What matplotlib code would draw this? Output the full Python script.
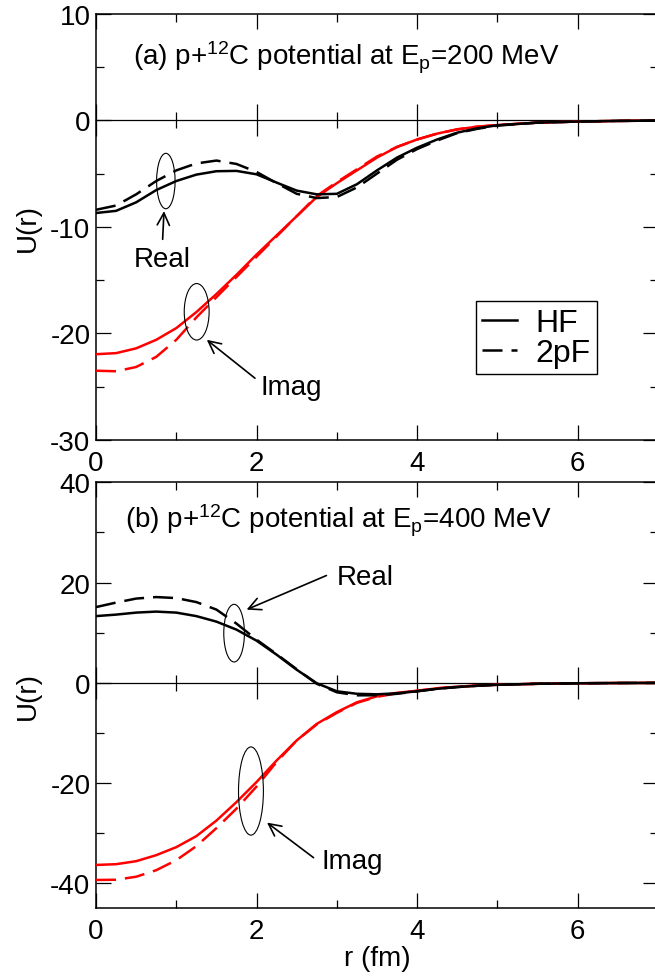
import numpy as np
import matplotlib
matplotlib.use("Agg")
import matplotlib.pyplot as plt
from matplotlib.patches import Ellipse
from matplotlib.ticker import MultipleLocator

plt.rcParams['font.family'] = ['Liberation Sans', 'DejaVu Sans']
plt.rcParams['mathtext.fontset'] = 'custom'
plt.rcParams['mathtext.rm'] = 'Liberation Sans'
plt.rcParams['mathtext.it'] = 'Liberation Sans:italic'
plt.rcParams['axes.unicode_minus'] = False

# radial grid (fm)
r = [0.0, 0.25, 0.5, 0.75, 1.0, 1.25, 1.5, 1.75, 2.0, 2.25, 2.5, 2.75, 3.0,
     3.25, 3.5, 3.75, 4.0, 4.25, 4.5, 4.75, 5.0, 5.5, 6.0, 6.5, 7.0]

# (a) E_p = 200 MeV
real_hf_200 = [-8.7, -8.5, -7.7, -6.55, -5.7, -5.1, -4.78, -4.75, -5.07, -5.85, -6.6, -6.95, -6.9,
               -6.0, -4.7, -3.5, -2.57, -1.8, -1.16, -0.75, -0.47, -0.22, -0.12, -0.06, -0.03]
real_2pf_200 = [-8.4, -8.0, -6.95, -5.7, -4.7, -4.05, -3.78, -4.1, -4.85, -5.9, -6.9, -7.3, -7.2,
                -6.3, -5.0, -3.7, -2.7, -1.9, -1.2, -0.8, -0.5, -0.22, -0.12, -0.06, -0.03]
imag_hf_200 = [-21.95, -21.85, -21.4, -20.6, -19.5, -18.0, -16.3, -14.5, -12.6, -10.8, -9.0, -7.2, -5.9,
               -4.7, -3.5, -2.5, -1.8, -1.25, -0.85, -0.6, -0.45, -0.22, -0.12, -0.06, -0.03]
imag_2pf_200 = [-23.5, -23.55, -23.15, -22.2, -20.6, -18.5, -16.6, -14.7, -12.8, -10.9, -9.0, -7.1, -5.8,
                -4.6, -3.4, -2.5, -1.8, -1.25, -0.85, -0.6, -0.45, -0.22, -0.12, -0.06, -0.03]

# (b) E_p = 400 MeV
real_hf_400 = [13.3, 13.6, 14.0, 14.2, 14.0, 13.3, 12.2, 10.6, 8.4, 5.6, 2.6, -0.1, -1.7,
               -2.2, -2.3, -2.1, -1.7, -1.2, -0.85, -0.6, -0.4, -0.2, -0.1, -0.05, -0.02]
real_2pf_400 = [15.1, 16.0, 16.8, 17.1, 16.9, 16.1, 14.6, 11.8, 8.6, 5.7, 2.7, -0.2, -1.9,
                -2.5, -2.5, -2.2, -1.7, -1.2, -0.85, -0.6, -0.4, -0.2, -0.1, -0.05, -0.02]
imag_hf_400 = [-36.35, -36.2, -35.6, -34.4, -32.8, -30.6, -27.5, -23.8, -19.8, -15.5, -11.5, -8.2, -5.85,
               -3.9, -2.7, -2.0, -1.6, -1.1, -0.8, -0.55, -0.4, -0.2, -0.1, -0.05, -0.02]
imag_2pf_400 = [-39.35, -39.3, -38.7, -37.4, -35.4, -32.6, -29.0, -25.1, -20.7, -15.8, -11.5, -8.3, -6.0,
                -4.0, -2.8, -2.1, -1.6, -1.1, -0.8, -0.55, -0.4, -0.2, -0.1, -0.05, -0.02]

W, H = 655, 978
fig = plt.figure(figsize=(W / 100, H / 100), dpi=100)
ax1 = fig.add_axes([96 / W, (H - 441) / H, 562 / W, 426.3 / H])
ax2 = fig.add_axes([96 / W, (H - 909.3) / H, 562 / W, 426.0 / H])

LW = 1.8
DASH = (8, 3.6)


def style_axes(ax, ylim, ymaj, ymin, tick_fs):
    ax.set_xlim(0, 7)
    ax.set_ylim(*ylim)
    ax.xaxis.set_major_locator(MultipleLocator(2))
    ax.xaxis.set_minor_locator(MultipleLocator(1))
    ax.yaxis.set_major_locator(MultipleLocator(ymaj))
    ax.yaxis.set_minor_locator(MultipleLocator(ymin))
    ax.tick_params(which='both', direction='in', top=True, right=True, width=0.9)
    ax.tick_params(which='major', length=11, labelsize=tick_fs)
    ax.tick_params(which='minor', length=6)
    ax.tick_params(axis='x', pad=7)
    ax.tick_params(axis='y', pad=4)
    for s in ax.spines.values():
        s.set_linewidth(1.1)
    # zero axis with ticks in both directions
    sec = ax.secondary_xaxis(0, transform=ax.transData)
    sec.xaxis.set_major_locator(MultipleLocator(2))
    sec.xaxis.set_minor_locator(MultipleLocator(1))
    sec.tick_params(which='both', direction='inout', labelbottom=False, width=0.9)
    sec.tick_params(which='major', length=23)
    sec.tick_params(which='minor', length=12)
    sec.spines['bottom'].set_linewidth(0.9)
    sec.set_zorder(0.5)


def curves(ax, rh, rp, ih, ip):
    ax.plot(r, ih, color='red', lw=LW, zorder=3)
    ax.plot(r, ip, color='red', lw=LW, dashes=DASH, zorder=3)
    ax.plot(r, rh, color='black', lw=LW, zorder=4, label='HF')
    ax.plot(r, rp, color='black', lw=LW, dashes=DASH, zorder=4, label='2pF')


def mark(ax, center, w, h, tail, tip):
    ax.add_patch(Ellipse(center, w, h, fill=False, lw=0.8, color='black', zorder=5))
    ax.annotate('', xy=tip, xytext=tail,
                arrowprops=dict(arrowstyle='->', lw=1.2, color='black',
                                mutation_scale=22, shrinkA=0, shrinkB=0))


# panel (a)
curves(ax1, real_hf_200, real_2pf_200, imag_hf_200, imag_2pf_200)
style_axes(ax1, (-30, 10), 10, 5, 20)
ax1.set_ylabel('U(r)', fontsize=20, labelpad=7)
ax1.text(0.46, 5.26, r'(a) p+$^{12}$C potential at E$_{\mathrm{p}}$=200 MeV',
         fontsize=20, va='baseline', ha='left')
mark(ax1, (0.87, -5.7), 0.23, 5.2, (0.83, -11.17), (0.847, -8.52))
ax1.text(0.82, -13.7, 'Real', fontsize=20, ha='center', va='baseline')
mark(ax1, (1.254, -17.97), 0.31, 5.3, (1.98, -24.2), (1.38, -20.6))
ax1.text(2.05, -25.7, 'Imag', fontsize=20, ha='left', va='baseline')
leg = ax1.legend(loc='upper left', bbox_to_anchor=(0.676, 0.325), fontsize=23,
                 frameon=True, fancybox=False, framealpha=1, edgecolor='black',
                 handlelength=1.1, handletextpad=0.55, labelspacing=0.0,
                 borderpad=0.2, borderaxespad=0)
leg.get_frame().set_linewidth(1.0)

# panel (b)
curves(ax2, real_hf_400, real_2pf_400, imag_hf_400, imag_2pf_400)
style_axes(ax2, (-45, 40), 20, 10, 20)
ax2.set_ylabel('U(r)', fontsize=20, labelpad=7)
ax2.set_xlabel('r (fm)', fontsize=20, labelpad=1)
ax2.text(0.36, 31.0, r'(b) p+$^{12}$C potential at E$_{\mathrm{p}}$=400 MeV',
         fontsize=20, va='baseline', ha='left')
mark(ax2, (1.72, 9.9), 0.257, 11.5, (2.87, 21.4), (1.876, 14.6))
ax2.text(3.0, 19.7, 'Real', fontsize=20, ha='left', va='baseline')
mark(ax2, (1.93, -21.6), 0.31, 17.6, (2.71, -34.9), (2.13, -27.9))
ax2.text(2.81, -37.0, 'Imag', fontsize=20, ha='left', va='baseline')

fig.savefig('out.png', dpi=100)
